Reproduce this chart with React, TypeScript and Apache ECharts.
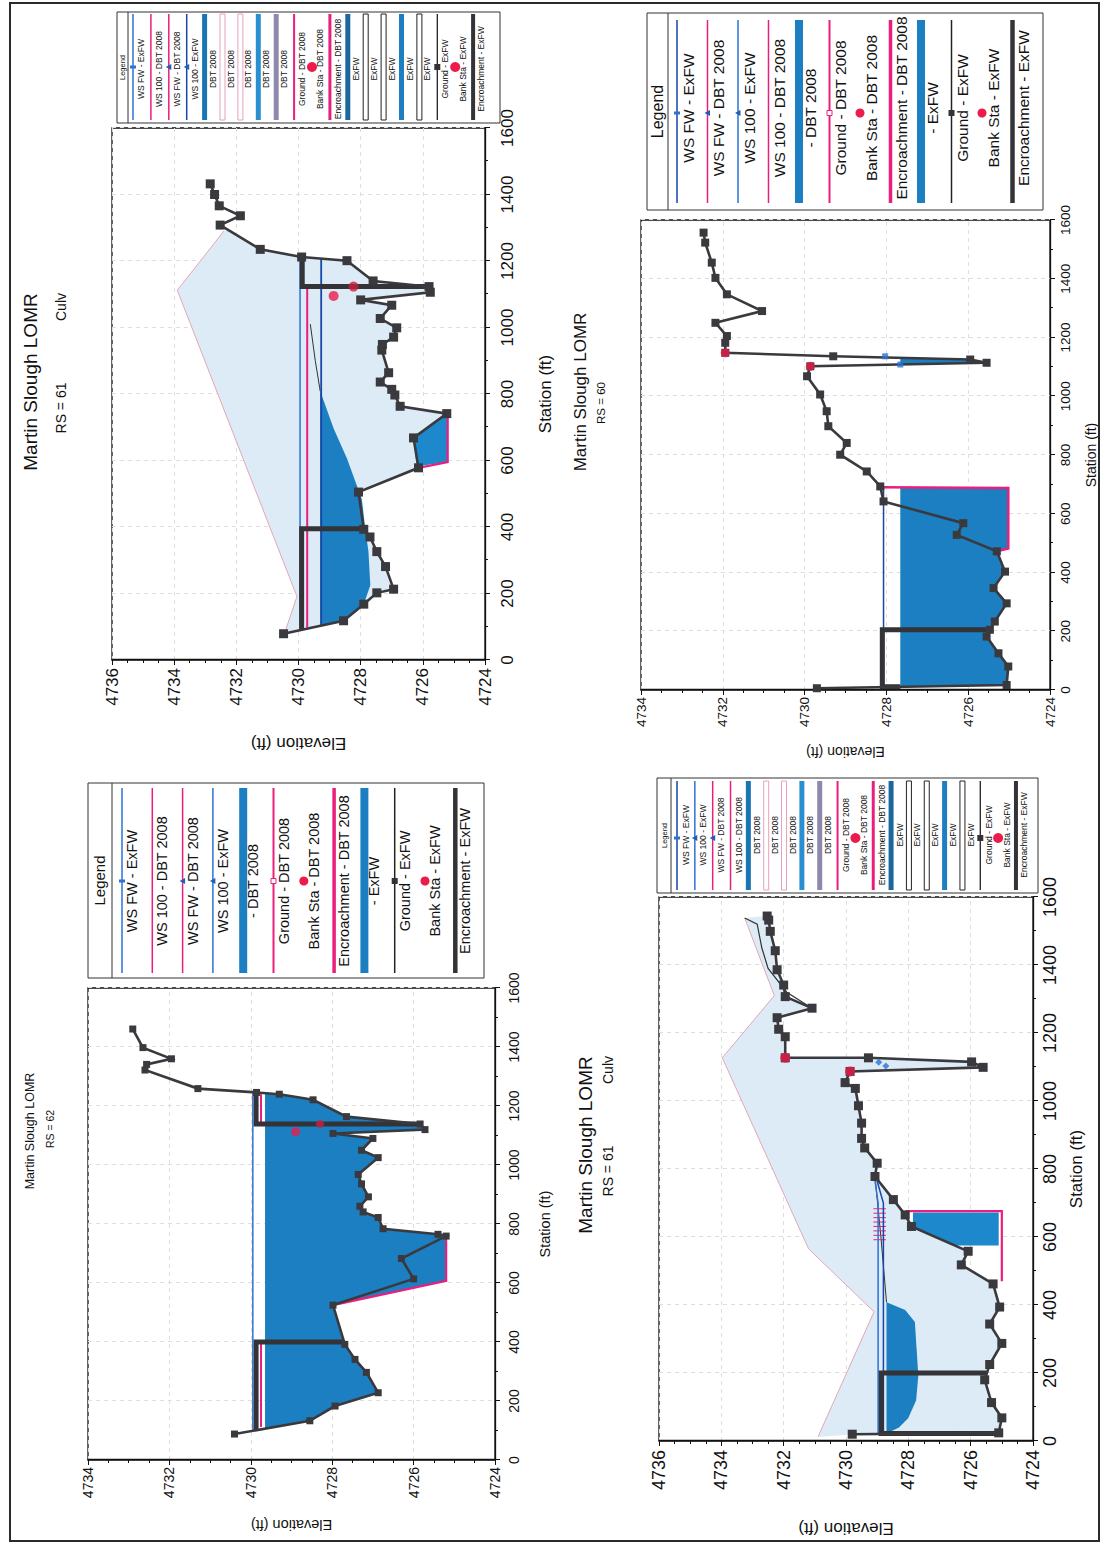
import React, { useEffect, useRef } from 'react';
import * as echarts from 'echarts';

type Pt = [number, number];

// ================= RS = 62 (station ft, elevation ft) =================
const rs62Ground: Pt[] = [
  [88, 4730.4], [133, 4728.55], [183, 4727.93], [228, 4726.87], [297, 4727.16], [341, 4727.44],
  [392, 4727.69], [525, 4727.98], [614, 4726.0], [683, 4726.3], [759, 4725.2], [765, 4725.4],
  [784, 4726.75], [822, 4726.87], [841, 4727.24], [860, 4727.32], [892, 4727.11], [936, 4727.28],
  [968, 4727.36], [1025, 4726.87], [1050, 4727.28], [1090, 4727.0], [1107, 4727.98], [1120, 4725.72],
  [1139, 4725.84], [1164, 4727.65], [1221, 4728.47], [1240, 4729.3], [1246, 4729.86], [1259, 4731.3],
  [1322, 4732.6], [1341, 4732.56], [1360, 4731.95], [1398, 4732.65], [1461, 4732.9],
];
const rs62DbtChange: Pt[] = [[525, 4727.98], [607, 4725.2], [759, 4725.2]];
const rs62WsLevel = 4729.65;
const rs62WsFwExFW: Pt[] = [[100, 4729.95], [1247, 4729.95]];
const rs62WsFwDbtL: Pt[] = [[112, 4729.75], [400, 4729.75]];
const rs62WsFwDbtR: Pt[] = [[1142, 4729.75], [1240, 4729.75]];
const rs62EncrL: Pt[] = [[100, 4729.87], [400, 4729.87], [400, 4727.71]];
const rs62EncrR: Pt[] = [[1139, 4725.84], [1139, 4729.87], [1248, 4729.87]];
const rs62BankDbt: Pt[] = [[1113, 4728.9]];
const rs62BankExFW: Pt[] = [[1139, 4728.3]];

// ================= RS = 61 Culv (upper) =================
const rs61aGround: Pt[] = [
  [79, 4730.48], [118, 4728.55], [168, 4727.9], [202, 4727.48], [213, 4726.94], [281, 4727.2],
  [326, 4727.48], [370, 4727.7], [393, 4727.9], [505, 4728.07], [578, 4726.14], [668, 4726.3],
  [741, 4725.23], [763, 4726.73], [797, 4726.9], [814, 4727.0], [836, 4727.37], [864, 4727.1],
  [932, 4727.32], [949, 4727.3], [971, 4726.94], [999, 4726.84], [1027, 4727.37], [1067, 4727.0],
  [1083, 4728.0], [1106, 4725.76], [1123, 4725.8], [1140, 4727.6], [1201, 4728.44], [1212, 4729.9],
  [1235, 4731.23], [1308, 4732.52], [1336, 4731.87], [1366, 4732.55], [1400, 4732.7], [1432, 4732.84],
];
const rs61aDeck: Pt[] = [[80, 4730.45], [191, 4730.05], [1112, 4733.9], [1290, 4732.4]];
const rs61aWaterBottom: Pt[] = [
  [103, 4729.3], [118, 4728.55], [168, 4727.9], [225, 4727.69], [326, 4727.75], [393, 4727.85],
  [483, 4727.96], [606, 4728.44], [696, 4728.87], [808, 4729.3],
];
const rs61aCurve: Pt[] = [[808, 4729.3], [900, 4729.46], [1010, 4729.62]];
const rs61aWsFwExFW: Pt[] = [[95, 4729.95], [1212, 4729.95]];
const rs61aWsFwDbt: Pt[] = [[98, 4729.72], [1125, 4729.72]];
const rs61aWs100ExFW: Pt[] = [[104, 4729.27], [1207, 4729.27]];
const rs61aEncrL: Pt[] = [[92, 4729.9], [395, 4729.9], [395, 4727.88]];
const rs61aEncrR: Pt[] = [[1123, 4725.8], [1123, 4729.88], [1212, 4729.88]];
const rs61aDbtGround: Pt[] = [[578, 4726.14], [595, 4725.2], [735, 4725.2], [741, 4725.23]];
const rs61aDbtFill: Pt[] = [[583, 4726.2], [668, 4726.3], [735, 4725.35], [735, 4725.2], [595, 4725.2]];
const rs61aBankDbt: Pt[] = [[1095, 4728.87]];
const rs61aBankExFW: Pt[] = [[1123, 4728.23]];

// ================= RS = 61 Culv (lower) =================
const rs61bGround: Pt[] = [
  [20, 4729.8], [24, 4725.1], [68, 4725.0], [113, 4725.33], [180, 4725.55], [225, 4725.39],
  [287, 4725.0], [344, 4725.39], [394, 4725.07], [462, 4725.28], [518, 4726.3], [558, 4726.08],
  [631, 4727.9], [665, 4728.1], [710, 4728.48], [778, 4729.07], [817, 4729.0], [862, 4729.4],
  [890, 4729.5], [935, 4729.5], [986, 4729.6], [1037, 4729.7], [1054, 4730.03], [1087, 4729.87],
  [1099, 4725.6], [1115, 4725.97], [1127, 4729.28], [1127, 4731.95], [1189, 4731.95], [1211, 4732.16],
  [1245, 4732.21], [1273, 4731.09], [1307, 4731.95], [1341, 4732.0], [1386, 4732.21], [1442, 4732.27],
  [1499, 4732.43], [1532, 4732.48], [1544, 4732.53],
];
const rs61bDeck: Pt[] = [[12, 4730.9], [380, 4729.1], [565, 4731.2], [1127, 4733.97], [1310, 4732.3], [1538, 4733.25]];
const rs61bWaterBottom: Pt[] = [
  [22, 4728.7], [40, 4728.3], [68, 4728.0], [120, 4727.75], [192, 4727.68], [350, 4727.79],
  [385, 4728.1], [408, 4728.7],
];
const rs61bCurve: Pt[] = [[408, 4728.7], [600, 4728.88], [778, 4729.07]];
const rs61bThin: Pt[] = [[1273, 4731.09], [1320, 4731.9], [1390, 4732.5], [1450, 4732.7], [1520, 4732.85], [1538, 4733.25]];
const rs61bWsFwExFW: Pt[] = [[22, 4728.97], [700, 4728.97], [785, 4729.1]];
const rs61bWs100ExFW: Pt[] = [[22, 4728.8], [700, 4728.8], [780, 4729.05]];
const rs61bEncr: Pt[] = [[22, 4725.1], [22, 4728.87], [200, 4728.87], [200, 4725.5]];
const rs61bCulvOutline: Pt[] = [[470, 4725.0], [676, 4725.0], [676, 4728.05], [655, 4728.05]];
const rs61bCulvFill: Pt[] = [[575, 4725.1], [672, 4725.1], [672, 4727.85], [631, 4727.85], [575, 4726.5]];
const rs61bHatchStations: number[] = [592, 605, 618, 631, 644, 657, 670, 683];
const rs61bHatchRange: Pt = [4728.72, 4729.12];
const rs61bWsMarks: Pt[] = [[1103, 4728.72], [1114, 4728.95]];
const rs61bBankDbt: Pt[] = [[1087, 4729.87]];
const rs61bBankExFW: Pt[] = [[1127, 4731.95]];

// ================= RS = 60 =================
const rs60Ground: Pt[] = [
  [6, 4729.7], [17, 4725.06], [80, 4725.02], [125, 4725.26], [182, 4725.55], [205, 4725.47],
  [233, 4725.35], [295, 4725.06], [347, 4725.38], [403, 4725.1], [472, 4725.3], [528, 4726.28],
  [568, 4726.12], [642, 4728.07], [693, 4728.15], [744, 4728.48], [801, 4729.13], [841, 4728.97],
  [898, 4729.42], [949, 4729.46], [1006, 4729.62], [1068, 4729.94], [1102, 4729.86], [1114, 4725.55],
  [1125, 4725.95], [1136, 4729.3], [1148, 4731.94], [1182, 4731.94], [1205, 4731.9], [1250, 4732.18],
  [1290, 4731.04], [1347, 4731.9], [1403, 4732.18], [1455, 4732.27], [1523, 4732.43], [1557, 4732.47],
];
const rs60DbtChange: Pt[] = [[472, 4725.3], [482, 4725.02], [688, 4725.02], [690, 4728.1], [693, 4728.15]];
const rs60WsLevel = 4727.66;
const rs60WsFwExFW: Pt[] = [[8, 4728.07], [690, 4728.07]];
const rs60Encr: Pt[] = [[11, 4727.66], [11, 4728.1], [205, 4728.1], [205, 4725.47]];
const rs60WsMarks: Pt[] = [[1108, 4727.66], [1136, 4728.03]];
const rs60BankDbt: Pt[] = [[1102, 4729.86]];
const rs60BankExFW: Pt[] = [[1148, 4731.94]];

// legend labels
const legLabels12A = ['WS FW - ExFW', 'WS 100 - DBT 2008', 'WS FW - DBT 2008', 'WS 100 - ExFW', '- DBT 2008', 'Ground - DBT 2008', 'Bank Sta - DBT 2008', 'Encroachment - DBT 2008', '- ExFW', 'Ground - ExFW', 'Bank Sta - ExFW', 'Encroachment - ExFW'];
const legLabels12D = ['WS FW - ExFW', 'WS FW - DBT 2008', 'WS 100 - ExFW', 'WS 100 - DBT 2008', '- DBT 2008', 'Ground - DBT 2008', 'Bank Sta - DBT 2008', 'Encroachment - DBT 2008', '- ExFW', 'Ground - ExFW', 'Bank Sta - ExFW', 'Encroachment - ExFW'];
const legLabels20B = ['WS FW - ExFW', 'WS 100 - DBT 2008', 'WS FW - DBT 2008', 'WS 100 - ExFW', 'DBT 2008', 'DBT 2008', 'DBT 2008', 'DBT 2008', 'DBT 2008', 'Ground - DBT 2008', 'Bank Sta - DBT 2008', 'Encroachment - DBT 2008', 'ExFW', 'ExFW', 'ExFW', 'ExFW', 'ExFW', 'Ground - ExFW', 'Bank Sta - ExFW', 'Encroachment - ExFW'];
const legLabels20C = ['WS FW - ExFW', 'WS 100 - ExFW', 'WS FW - DBT 2008', 'WS 100 - DBT 2008', 'DBT 2008', 'DBT 2008', 'DBT 2008', 'DBT 2008', 'DBT 2008', 'Ground - DBT 2008', 'Bank Sta - DBT 2008', 'Encroachment - DBT 2008', 'ExFW', 'ExFW', 'ExFW', 'ExFW', 'ExFW', 'Ground - ExFW', 'Bank Sta - ExFW', 'Encroachment - ExFW'];

// ================= styles =================
const FONT = '"Liberation Sans", Arial, Helvetica, sans-serif';
const BLUE_FILL = '#1b7fc2';
const LIGHT = '#dcebf5';
const PINK = '#ea1f7d';
const DECK = '#e4a6b7';
const DARK = '#3a3a3e';
const DARK2 = '#333338';
const WS = '#2b72d4';
const WS2 = '#1546a8';
const RED = '#ec1b4b';

// ================= helpers =================
function splice(exfw: Pt[], change: Pt[]): Pt[] {
  const s0 = change[0][0];
  const s1 = change[change.length - 1][0];
  return [...exfw.filter((p) => p[0] < s0), ...change, ...exfw.filter((p) => p[0] > s1)];
}
function clipBelow(g: Pt[], ws: number): Pt[] {
  const out: Pt[] = [];
  for (let i = 0; i < g.length; i++) {
    const [x, y] = g[i];
    if (i > 0) {
      const [px, py] = g[i - 1];
      if ((py - ws) * (y - ws) < 0) {
        const t = (ws - py) / (y - py);
        out.push([px + t * (x - px), ws]);
      }
    }
    out.push([x, Math.min(y, ws)]);
  }
  return out;
}
function interpAt(g: Pt[], s: number): number {
  for (let i = 1; i < g.length; i++) {
    const [x0, y0] = g[i - 1];
    const [x1, y1] = g[i];
    if (s >= x0 && s <= x1 && x1 !== x0) return y0 + ((y1 - y0) * (s - x0)) / (x1 - x0);
  }
  return s < g[0][0] ? g[0][1] : g[g.length - 1][1];
}
function between(g: Pt[], s0: number, s1: number): Pt[] {
  return [[s0, interpAt(g, s0)], ...g.filter((p) => p[0] > s0 && p[0] < s1), [s1, interpAt(g, s1)]];
}

const line = (g: number, data: Pt[], color: string, width: number, z: number, extra: any = {}) => ({
  type: 'line', xAxisIndex: g, yAxisIndex: g, data, z, silent: true, clip: true,
  symbol: 'none', showSymbol: false,
  lineStyle: { color, width, cap: 'butt', join: 'miter' },
  itemStyle: { color }, emphasis: { disabled: true },
  ...extra,
});
const groundLine = (g: number, data: Pt[], size: number) =>
  line(g, data, DARK, 2.6, 7, { symbol: 'rect', symbolSize: size, showSymbol: true, itemStyle: { color: DARK } });
const dots = (g: number, data: Pt[], color: string, size: number, symbol = 'circle') => ({
  type: 'scatter', xAxisIndex: g, yAxisIndex: g, data, symbol, symbolSize: size,
  itemStyle: { color }, z: 8, silent: true,
});
const poly = (g: number, pts: Pt[], fill: string, z: number) => ({
  type: 'custom', xAxisIndex: g, yAxisIndex: g, z, silent: true, clip: true, data: pts,
  renderItem: (p: any, api: any) =>
    p.dataIndex === 0
      ? { type: 'polygon', shape: { points: pts.map((q) => api.coord(q)) }, style: { fill } }
      : null,
});
const segs = (g: number, data: number[][], color: string, width: number, z: number) => ({
  type: 'custom', xAxisIndex: g, yAxisIndex: g, z, silent: true, clip: true, data,
  encode: { x: [0, 2], y: [1, 3] },
  renderItem: (_p: any, api: any) => {
    const a = api.coord([api.value(0), api.value(1)]);
    const b = api.coord([api.value(2), api.value(3)]);
    return { type: 'line', shape: { x1: a[0], y1: a[1], x2: b[0], y2: b[1] }, style: { stroke: color, lineWidth: width } };
  },
});

const plain = (v: number) => String(Math.round(v));

function axesFor(g: number, ymax: number, lf: number, nf: number, xGap: number, yGap: number, xMargin: number, yMargin: number) {
  const tick = { show: true, length: 5, lineStyle: { color: '#111', width: 1 } };
  const axisLine = { show: true, onZero: false, lineStyle: { color: '#111', width: 1.3 } };
  const splitLine = { show: true, lineStyle: { color: '#dedede', type: [4, 4], width: 1 } };
  const nameTextStyle = { fontSize: nf, fontFamily: FONT, color: '#111' };
  const x = {
    type: 'value', gridIndex: g, min: 0, max: 1600, interval: 200,
    name: 'Station (ft)', nameLocation: 'middle', nameGap: xGap, nameTextStyle,
    axisLine, axisTick: tick, splitLine,
    minorTick: { show: true, splitNumber: 2, length: 3, lineStyle: { color: '#111' } },
    axisLabel: { fontSize: lf, fontFamily: FONT, color: '#111', margin: xMargin, formatter: plain },
  };
  const y = {
    type: 'value', gridIndex: g, min: 4724, max: ymax, interval: 2,
    name: 'Elevation (ft)', nameLocation: 'middle', nameRotate: 90, nameGap: yGap, nameTextStyle,
    axisLine, axisTick: tick, splitLine,
    minorTick: { show: true, splitNumber: 4, length: 3, lineStyle: { color: '#111' } },
    axisLabel: { fontSize: lf, fontFamily: FONT, color: '#111', margin: yMargin, formatter: plain },
  };
  return { x, y };
}

const txt = (text: string, x: number, y: number, size: number, extra: any = {}) => ({
  type: 'text', x, y, silent: true, z: 50,
  style: {
    text, fontSize: size, fontFamily: FONT, fill: '#111',
    align: 'center', verticalAlign: 'middle', textAlign: 'center', textVerticalAlign: 'middle', ...extra,
  },
});

function marker(m: string, x: number, y: number) {
  if (m === 'sq') return { type: 'rect', z: 50, shape: { x: x - 3, y: y - 3, width: 6, height: 6 }, style: { fill: '#333' } };
  if (m === 'hsq') return { type: 'rect', z: 50, shape: { x: x - 2.5, y: y - 2.5, width: 5, height: 5 }, style: { fill: '#fff', stroke: PINK, lineWidth: 1 } };
  if (m === 'tri') return { type: 'polygon', z: 50, shape: { points: [[x - 3, y + 2.5], [x + 3, y + 2.5], [x, y - 3]] }, style: { fill: '#1f5fb8' } };
  return { type: 'rect', z: 50, shape: { x: x - 1.5, y: y - 3, width: 3, height: 6 }, style: { fill: WS } };
}

type Sym = { k: string; c: string; w?: number; m?: string };
const syms12A: Sym[] = [
  { k: 'line', c: WS, m: 'plus' }, { k: 'line', c: PINK }, { k: 'line', c: PINK, m: 'tri' }, { k: 'line', c: WS, m: 'tri' },
  { k: 'bar', c: BLUE_FILL }, { k: 'line', c: PINK, w: 2, m: 'hsq' }, { k: 'dot', c: RED }, { k: 'line', c: PINK, w: 3.5 },
  { k: 'bar', c: BLUE_FILL }, { k: 'line', c: '#222', w: 1.5, m: 'sq' }, { k: 'dot', c: RED }, { k: 'thick', c: DARK2 },
];
const syms12D: Sym[] = [
  { k: 'line', c: WS2, m: 'plus' }, { k: 'line', c: PINK, m: 'tri' }, { k: 'line', c: WS, m: 'tri' }, { k: 'line', c: PINK },
  { k: 'bar', c: BLUE_FILL }, { k: 'line', c: PINK, w: 2, m: 'hsq' }, { k: 'dot', c: RED }, { k: 'line', c: PINK, w: 3.5 },
  { k: 'bar', c: BLUE_FILL }, { k: 'line', c: '#222', w: 1.5, m: 'sq' }, { k: 'dot', c: RED }, { k: 'thick', c: DARK2 },
];
const syms20B: Sym[] = [
  { k: 'line', c: WS, m: 'plus' }, { k: 'line', c: PINK }, { k: 'line', c: PINK, m: 'tri' }, { k: 'line', c: WS2, m: 'tri' },
  { k: 'bar', c: '#1a75b5' }, { k: 'hollow', c: '#e7a0c0' }, { k: 'hollow', c: '#e7a0c0' }, { k: 'bar', c: '#2a8fd0' }, { k: 'bar', c: '#8d89ad' },
  { k: 'line', c: PINK, w: 2 }, { k: 'dot', c: RED }, { k: 'line', c: PINK, w: 3 },
  { k: 'bar', c: '#1b679e' }, { k: 'hollow', c: '#222' }, { k: 'hollow', c: '#222' }, { k: 'bar', c: '#1e7fc0' }, { k: 'hollow', c: '#222' },
  { k: 'line', c: '#222', w: 1.3, m: 'sq' }, { k: 'dot', c: RED }, { k: 'thick', c: DARK2 },
];
const syms20C: Sym[] = [
  { k: 'line', c: WS2, m: 'plus' }, { k: 'line', c: WS, m: 'tri' }, { k: 'line', c: PINK, m: 'tri' }, { k: 'line', c: PINK },
  { k: 'bar', c: '#1a75b5' }, { k: 'hollow', c: '#e7a0c0' }, { k: 'hollow', c: '#e7a0c0' }, { k: 'bar', c: '#2a8fd0' }, { k: 'bar', c: '#8d89ad' },
  { k: 'line', c: PINK, w: 2 }, { k: 'dot', c: RED }, { k: 'line', c: PINK, w: 3 },
  { k: 'bar', c: '#1b679e' }, { k: 'hollow', c: '#222' }, { k: 'hollow', c: '#222' }, { k: 'bar', c: '#1e7fc0' }, { k: 'hollow', c: '#222' },
  { k: 'line', c: '#222', w: 1.3, m: 'sq' }, { k: 'dot', c: RED }, { k: 'thick', c: DARK2 },
];

function legend(s: any, syms: Sym[], labels: string[]) {
  const [bx, by, bw, bh] = s.box;
  const els: any[] = [
    { type: 'rect', z: 40, silent: true, shape: { x: bx, y: by, width: bw, height: bh }, style: { fill: '#fff', stroke: '#333', lineWidth: 1 } },
    txt('Legend', bx + bw / 2, s.headY, s.hfs),
    { type: 'line', z: 45, silent: true, shape: { x1: bx, y1: s.divY, x2: bx + bw, y2: s.divY }, style: { stroke: '#333', lineWidth: 1 } },
  ];
  syms.forEach((it, i) => {
    const y = s.row0 + i * s.dRow;
    if (it.k === 'line' || it.k === 'thick') {
      els.push({ type: 'line', z: 45, silent: true, shape: { x1: s.sx0, y1: y, x2: s.sx1, y2: y }, style: { stroke: it.c, lineWidth: it.k === 'thick' ? s.thick : it.w ?? 1.5 } });
    } else if (it.k === 'bar' || it.k === 'hollow') {
      els.push({ type: 'rect', z: 45, silent: true, shape: { x: s.sx0, y: y - s.barH / 2, width: s.sx1 - s.sx0, height: s.barH }, style: it.k === 'bar' ? { fill: it.c } : { fill: '#fff', stroke: it.c, lineWidth: 1 } });
    } else if (it.k === 'dot') {
      els.push({ type: 'circle', z: 45, silent: true, shape: { cx: s.mx, cy: y, r: s.dotR }, style: { fill: it.c } });
    }
    if (it.m) els.push(marker(it.m, s.mx, y));
    els.push(txt(labels[i], s.tx, y + s.tOff, s.fs));
  });
  return els;
}

function buildOption() {
  const A = 0, B = 1, C = 2, D = 3;
  const axA = axesFor(A, 4734, 14, 14.5, 42, 57, 12, 7);
  const axB = axesFor(B, 4736, 17, 17, 52, 75, 14, 8);
  const axC = axesFor(C, 4736, 18, 17, 35, 79, 8, 9);
  const axD = axesFor(D, 4734, 13.5, 14, 34, 55, 8, 7);

  const grids = [
    { left: 85, top: 88, width: 472, height: 407 },
    { left: 885, top: 112, width: 532, height: 373 },
    { left: 104, top: 659, width: 544, height: 374 },
    { left: 855, top: 641, width: 470, height: 409 },
  ].map((g) => ({ ...g, show: true, borderColor: '#111', borderWidth: 1.3, backgroundColor: 'transparent' }));

  const hatch = rs61bHatchStations.map((s) => [s, rs61bHatchRange[0], s, rs61bHatchRange[1]]);

  const series: any[] = [
    // ---- RS 62
    poly(A, clipBelow(splice(rs62Ground, rs62DbtChange), rs62WsLevel), BLUE_FILL, 2),
    line(A, rs62DbtChange, PINK, 2.2, 5),
    line(A, rs62WsFwExFW, WS, 1.5, 5),
    line(A, rs62WsFwDbtL, PINK, 2, 5),
    line(A, rs62WsFwDbtR, PINK, 2, 5),
    line(A, rs62EncrL, DARK2, 5, 6),
    line(A, rs62EncrR, DARK2, 5, 6),
    groundLine(A, rs62Ground, 7),
    dots(A, rs62BankDbt, RED, 9),
    dots(A, rs62BankExFW, '#c8203f', 8),
    // ---- RS 61 upper
    poly(B, [...rs61aDeck, ...between(rs61aGround, 80, 1290).reverse()], LIGHT, 1),
    poly(B, rs61aWaterBottom, BLUE_FILL, 2),
    poly(B, rs61aDbtFill, '#1e88cc', 3),
    line(B, rs61aDeck, DECK, 1, 4),
    line(B, rs61aCurve, '#333', 1, 4),
    line(B, rs61aDbtGround, PINK, 2.2, 5),
    line(B, rs61aWsFwExFW, WS, 1.5, 5),
    line(B, rs61aWsFwDbt, PINK, 2, 5),
    line(B, rs61aWs100ExFW, WS2, 1.8, 5),
    line(B, rs61aEncrL, DARK2, 5, 6),
    line(B, rs61aEncrR, DARK2, 5, 6),
    groundLine(B, rs61aGround, 9),
    dots(B, rs61aBankDbt, RED, 10),
    dots(B, rs61aBankExFW, '#c8203f', 10),
    // ---- RS 61 lower
    poly(C, [...rs61bDeck, ...between(rs61bGround, 20, 1544).reverse()], LIGHT, 1),
    poly(C, rs61bWaterBottom, BLUE_FILL, 2),
    poly(C, rs61bCulvFill, '#1e88cc', 3),
    line(C, rs61bDeck, DECK, 1, 4),
    line(C, rs61bCurve, '#333', 1, 4),
    line(C, rs61bThin, '#333', 1.2, 4),
    line(C, rs61bCulvOutline, PINK, 2.2, 5),
    segs(C, hatch, PINK, 1, 5),
    line(C, rs61bWsFwExFW, WS, 1.5, 5),
    line(C, rs61bWs100ExFW, WS2, 1.5, 5),
    line(C, rs61bEncr, DARK2, 5, 6),
    groundLine(C, rs61bGround, 9),
    dots(C, rs61bWsMarks, WS, 7, 'diamond'),
    dots(C, rs61bBankDbt, RED, 10),
    dots(C, rs61bBankExFW, RED, 10),
    // ---- RS 60
    poly(D, clipBelow(splice(rs60Ground, rs60DbtChange), rs60WsLevel), BLUE_FILL, 2),
    line(D, rs60DbtChange, PINK, 2.5, 5),
    line(D, rs60WsFwExFW, WS2, 1.5, 5),
    line(D, rs60Encr, DARK2, 5, 6),
    groundLine(D, rs60Ground, 8),
    dots(D, rs60WsMarks, WS, 6, 'rect'),
    dots(D, rs60BankDbt, RED, 9),
    dots(D, rs60BankExFW, RED, 9),
  ];

  const graphic: any[] = [
    { type: 'rect', z: 60, silent: true, shape: { x: 4, y: 10, width: 1538, height: 1089 }, style: { fill: 'none', stroke: '#2a2a2a', lineWidth: 2 } },
    // titles
    txt('Martin Slough LOMR', 414, 30, 12.5),
    txt('RS = 62', 416, 50, 10.5),
    txt('Martin Slough LOMR', 1163, 30, 19),
    txt('RS = 61', 1137, 61, 14),
    txt('Culv', 1238, 61, 14),
    txt('Martin Slough LOMR', 400, 585, 19),
    txt('RS = 61', 374, 608, 14),
    txt('Culv', 475, 608, 14),
    txt('Martin Slough LOMR', 1153, 580, 17),
    txt('RS = 60', 1142, 601, 11.5),
    // legends
    ...legend({ box: [567, 88, 195, 396], headY: 99, divY: 112, row0: 122, dRow: 30.3, sx0: 572, sx1: 757, mx: 664, tx: 664, tOff: 10, fs: 14.5, hfs: 15, barH: 8, dotR: 4.5, thick: 4.5 }, syms12A, legLabels12A),
    ...legend({ box: [1422, 117, 111, 383], headY: 122.5, divY: 128, row0: 133, dRow: 17.9, sx0: 1425, sx1: 1531, mx: 1478, tx: 1476, tOff: 8, fs: 8.5, hfs: 7.5, barH: 5, dotR: 5, thick: 4 }, syms20B, legLabels20B),
    ...legend({ box: [652, 657, 115, 381], headY: 664, divY: 671, row0: 677, dRow: 17.84, sx0: 655, sx1: 764, mx: 707, tx: 710, tOff: 8.5, fs: 8.5, hfs: 7.5, barH: 5, dotR: 5, thick: 4 }, syms20C, legLabels20C),
    ...legend({ box: [1335, 647, 197, 396], headY: 657, divY: 668, row0: 677, dRow: 30.5, sx0: 1342, sx1: 1525, mx: 1432, tx: 1437, tOff: 11, fs: 15.5, hfs: 16, barH: 8, dotR: 4.5, thick: 4.5 }, syms12D, legLabels12D),
  ];

  return {
    animation: false,
    backgroundColor: '#ffffff',
    textStyle: { fontFamily: FONT },
    grid: grids,
    xAxis: [axA.x, axB.x, axC.x, axD.x],
    yAxis: [axA.y, axB.y, axC.y, axD.y],
    series,
    graphic,
  };
}

export default function App() {
  const ref = useRef<HTMLDivElement>(null);
  useEffect(() => {
    document.body.style.margin = '0';
    document.body.style.overflow = 'hidden';
    const chart = echarts.init(ref.current as HTMLDivElement, undefined, { renderer: 'svg' });
    chart.setOption(buildOption() as any);
    return () => chart.dispose();
  }, []);
  return (
    <div style={{ position: 'relative', width: 1108, height: 1545, overflow: 'hidden', background: '#fff' }}>
      <div
        ref={ref}
        style={{
          position: 'absolute', left: 0, top: 0, width: 1545, height: 1108,
          transformOrigin: '0 0', transform: 'translate(0px, 1545px) rotate(-90deg)',
        }}
      />
    </div>
  );
}
